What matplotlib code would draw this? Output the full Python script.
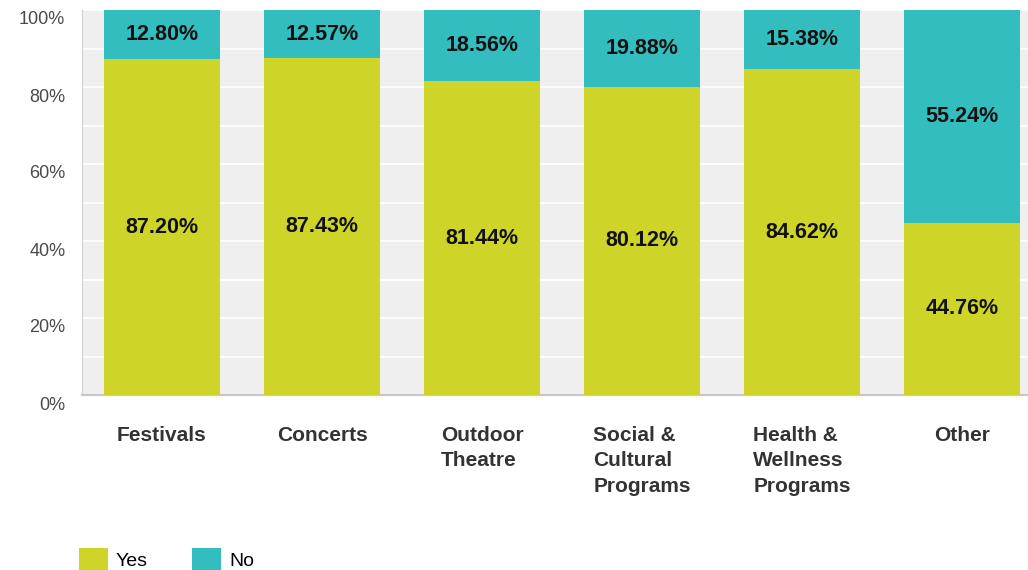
import matplotlib.pyplot as plt
import matplotlib.transforms as mtransforms
from matplotlib.patches import Patch

plt.rcParams['font.family'] = ['Liberation Sans', 'DejaVu Sans']

categories = ["Festivals", "Concerts", "Outdoor\nTheatre", "Social &\nCultural\nPrograms",
              "Health &\nWellness\nPrograms", "Other"]
yes = [87.20, 87.43, 81.44, 80.12, 84.62, 44.76]
no = [12.80, 12.57, 18.56, 19.88, 15.38, 55.24]

yes_col = "#cfd428"
no_col = "#33bdbf"

fig = plt.figure(figsize=(10.28, 5.70), dpi=100)
ax = fig.add_axes([82/1028, 1-395/570, 960/1028, 385/570])
ax.set_facecolor("#efefef")

x = list(range(len(categories)))
ax.bar(x, yes, width=0.72, color=yes_col, zorder=3)
ax.bar(x, no, width=0.72, bottom=yes, color=no_col, zorder=3)

for i in x:
    ax.text(i, yes[i]/2, f"{yes[i]:.2f}%", ha="center", va="center",
            fontsize=15.5, fontweight="bold", color="#111111", zorder=4)
    ax.text(i, yes[i] + no[i]/2, f"{no[i]:.2f}%", ha="center", va="center",
            fontsize=15.5, fontweight="bold", color="#111111", zorder=4)

ax.set_xlim(-0.5, 5.5)
ax.set_ylim(0, 100)
ax.set_yticks(range(0, 101, 20))
ax.set_yticklabels([f"{v}%" for v in range(0, 101, 20)], fontsize=13, color="#4a4a4a")
ax.set_yticks(range(10, 100, 20), minor=True)
ax.grid(axis="y", which="both", color="white", linewidth=1.2, zorder=1)
ax.tick_params(axis="y", which="both", length=0, pad=12)
ax.tick_params(axis="x", length=0, pad=22)
ax.set_xticks(x)
ax.set_xticklabels(categories, fontsize=15, fontweight="bold", color="#333333",
                   multialignment="left", linespacing=1.45, va="top")

# y tick labels sit a bit below their gridlines
shift = mtransforms.ScaledTranslation(0, -8/100, fig.dpi_scale_trans)
for lab in ax.get_yticklabels():
    lab.set_transform(lab.get_transform() + shift)

for s in ["top", "right"]:
    ax.spines[s].set_visible(False)
ax.spines["left"].set_color("#d0d0d0")
ax.spines["bottom"].set_color("#c8c8c8")
ax.spines["bottom"].set_linewidth(1.5)

handles = [Patch(facecolor=yes_col, label="Yes"), Patch(facecolor=no_col, label="No")]
fig.legend(handles=handles, loc="lower left", bbox_to_anchor=(61/1028, -0.03), ncol=2,
           frameon=False, fontsize=14, handlelength=1.5, handleheight=1.3,
           columnspacing=2.3, handletextpad=0.4)

fig.savefig("out.png", dpi=100)
